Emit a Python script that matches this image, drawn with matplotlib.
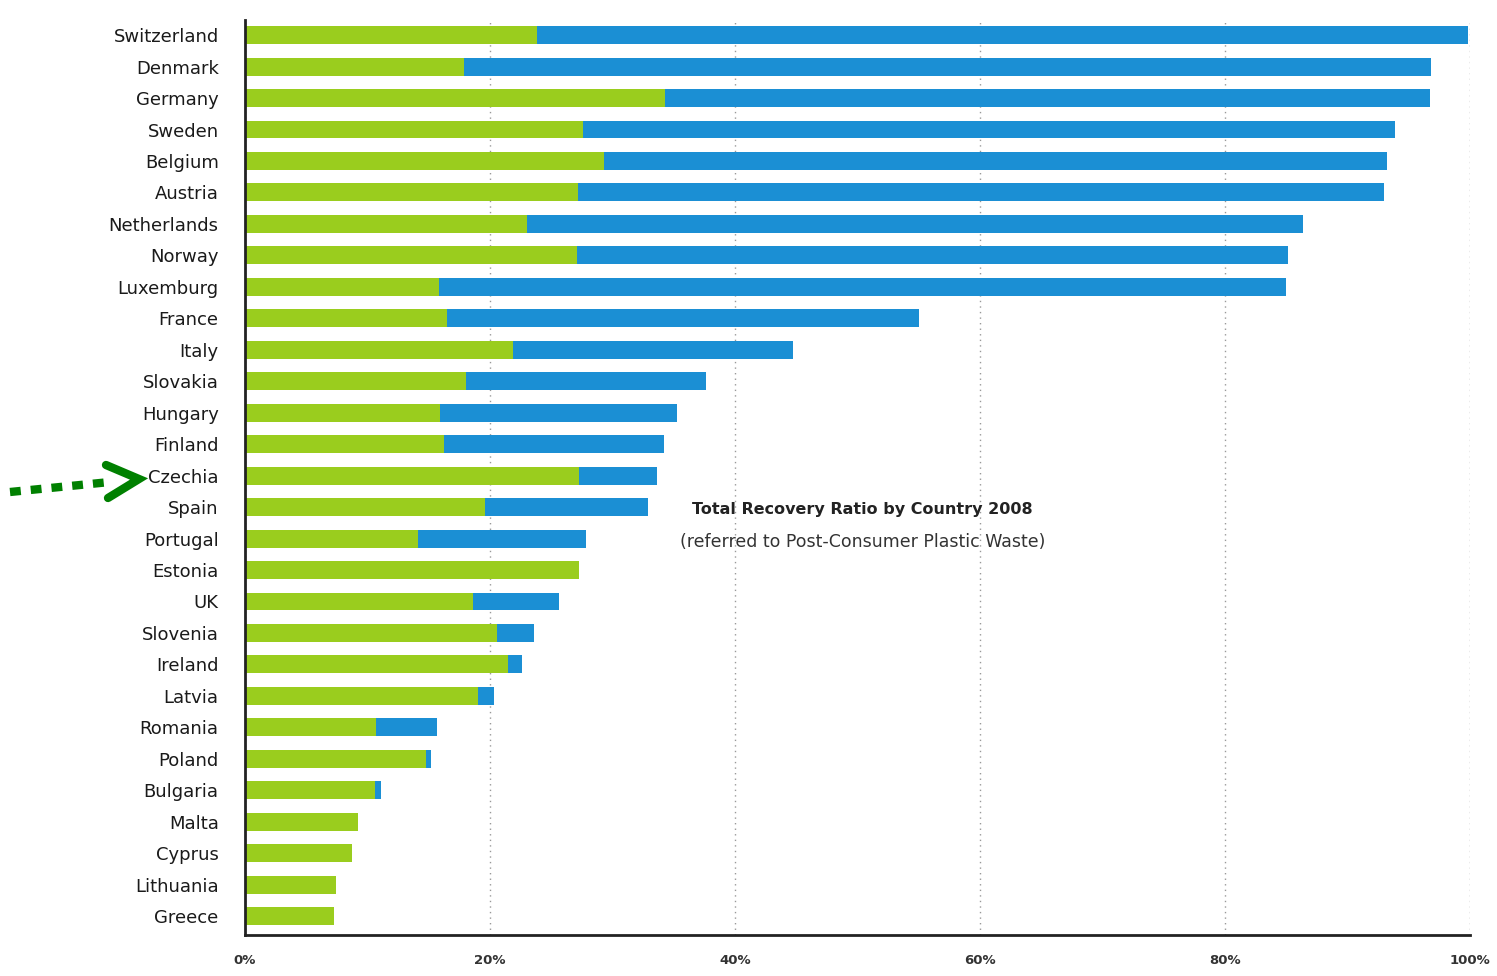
import numpy as np
import matplotlib.pyplot as plt

# Данные (доли в %)
countries = ["Switzerland", "Denmark", "Germany", "Sweden", "Belgium", "Austria",
             "Netherlands", "Norway", "Luxemburg", "France", "Italy", "Slovakia",
             "Hungary", "Finland", "Czechia", "Spain", "Portugal", "Estonia", "UK",
             "Slovenia", "Ireland", "Latvia", "Romania", "Poland", "Bulgaria",
             "Malta", "Cyprus", "Lithuania", "Greece"]
recycling = [23.8, 17.9, 34.3, 27.6, 29.3, 27.2, 23.0, 27.1, 15.8, 16.5, 21.9, 18.0,
             15.9, 16.2, 27.3, 19.6, 14.1, 27.3, 18.6, 20.6, 21.5, 19.0, 10.7, 14.8,
             10.6, 9.2, 8.7, 7.4, 7.3]
total = [99.8, 96.8, 96.7, 93.9, 93.2, 93.0, 86.4, 85.1, 85.0, 55.0, 44.7, 37.6,
         35.3, 34.2, 33.6, 32.9, 27.8, 27.3, 25.6, 23.6, 22.6, 20.3, 15.7, 15.2,
         11.1, 9.2, 8.7, 7.4, 7.3]
energy = [t - r for t, r in zip(total, recycling)]

ticks = [0, 20, 40, 60, 80, 100]
tick_labels = ["0%", "20%", "40%", "60%", "80%", "100%"]

green = "#9acd1e"
blue = "#1b8fd4"

fig = plt.figure(figsize=(14.97, 9.76), dpi=100)
ax = fig.add_axes([0.1637, 0.042, 0.8183, 0.9375])

y = np.arange(len(countries))
ax.barh(y, recycling, height=0.57, color=green, zorder=2)
ax.barh(y, energy, left=recycling, height=0.57, color=blue, zorder=2)

ax.set_xlim(0, 100)
ax.set_ylim(28.6, -0.48)
ax.set_yticks(y)
ax.set_yticklabels(countries, fontsize=13, fontweight="medium", color="#1a1a1a")
ax.set_xticks(ticks)
ax.set_xticklabels(tick_labels, fontsize=9.5, fontweight="bold", color="#333333")
ax.tick_params(axis="both", length=0)
ax.tick_params(axis="y", pad=19)
ax.tick_params(axis="x", pad=14)

for s in ["top", "right"]:
    ax.spines[s].set_visible(False)
ax.spines["left"].set_linewidth(2)
ax.spines["bottom"].set_linewidth(2)
ax.spines["left"].set_color("#222222")
ax.spines["bottom"].set_color("#222222")

ax.xaxis.grid(True, linestyle=(0, (1, 3)), color="#999999", linewidth=1, zorder=0)
ax.set_axisbelow(True)

ax.text(0.504, 0.465, "Total Recovery Ratio by Country 2008", transform=ax.transAxes,
        ha="center", va="center", fontsize=11.5, fontweight="bold", color="#222222")
ax.text(0.504, 0.430, "(referred to Post-Consumer Plastic Waste)", transform=ax.transAxes,
        ha="center", va="center", fontsize=12.5, color="#333333")

# Стрелка на Czechia
fig.add_artist(plt.Line2D([10 / 1497, 110 / 1497], [1 - 492 / 976, 1 - 482 / 976],
                          color="green", linewidth=6, linestyle=(0, (1.3, 1.2))))
fig.add_artist(plt.Line2D([106 / 1497, 139 / 1497, 108 / 1497],
                          [1 - 465 / 976, 1 - 479 / 976, 1 - 498 / 976],
                          color="green", linewidth=6, solid_capstyle="round",
                          solid_joinstyle="miter"))

plt.savefig("out.png")
